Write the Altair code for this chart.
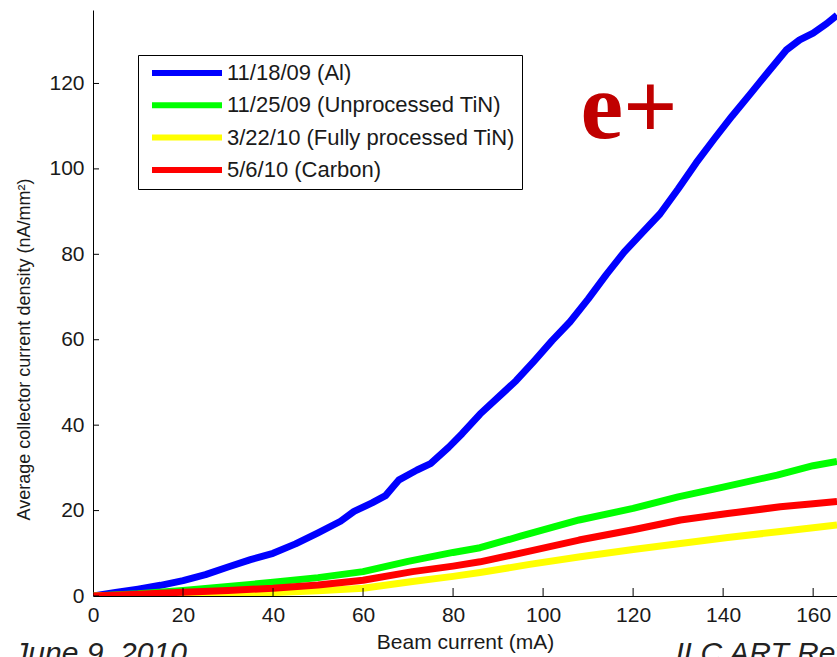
import altair as alt
import pandas as pd

# ---------------- data ----------------
series_names = [
    "11/18/09 (Al)",
    "11/25/09 (Unprocessed TiN)",
    "3/22/10 (Fully processed TiN)",
    "5/6/10 (Carbon)",
]
series_colors = ["#0000FF", "#00FF00", "#FFFF00", "#FF0000"]

al_x = [0, 5, 10, 15, 20, 25, 30, 35, 40, 45, 50, 55, 58, 62, 65, 68, 72, 75, 79, 82,
        86, 90, 94, 98, 102, 106, 110, 114, 118, 122, 126, 130, 134, 138, 142, 146,
        150, 154, 157, 160, 163, 165.3]
al_y = [0, 0.8, 1.6, 2.5, 3.6, 5.0, 6.8, 8.5, 10.0, 12.2, 14.8, 17.5, 19.8, 21.8, 23.5,
        27.2, 29.5, 31.0, 34.8, 38.0, 42.6, 46.5, 50.4, 55.0, 59.8, 64.2, 69.5, 75.2,
        80.5, 85.0, 89.5, 95.3, 101.4, 107.0, 112.4, 117.5, 122.7, 127.8, 130.2, 131.8,
        134.0, 136.0]

untin_x = [0, 10, 20, 30, 40, 50, 60, 70, 80, 86, 95, 108, 120, 130, 140, 152, 160, 165.3]
untin_y = [0, 0.5, 1.3, 2.2, 3.2, 4.3, 5.7, 8.1, 10.2, 11.3, 14.0, 17.8, 20.5, 23.2, 25.5,
           28.3, 30.5, 31.5]

fptin_x = [0, 10, 20, 30, 40, 50, 60, 71, 80, 86, 97, 108.3, 120, 130.5, 141, 152.7, 160, 165.3]
fptin_y = [0, 0.1, 0.3, 0.5, 0.8, 1.2, 1.8, 3.4, 4.6, 5.5, 7.4, 9.2, 10.9, 12.3, 13.7, 15.1,
           16.0, 16.6]

carbon_x = [0, 10, 20, 30, 40, 50, 60, 71, 80, 86, 97, 108, 120, 130.5, 141, 152.7, 160, 165.3]
carbon_y = [0, 0.4, 0.9, 1.3, 1.8, 2.6, 3.7, 5.7, 7.0, 8.0, 10.5, 13.1, 15.5, 17.8, 19.3,
            20.9, 21.6, 22.1]

x_ticks = [0, 20, 40, 60, 80, 100, 120, 140, 160]
y_ticks = [0, 20, 40, 60, 80, 100, 120]
x_domain = [0, 165.3]
y_domain = [0, 137.2]

x_title = "Beam current (mA)"
y_title = "Average collector current density (nA/mm\u00b2)"

# annotations (data coordinates)
big_label = ["e+"]
big_label_x = [108.3]
big_label_y = [107.3]
footer_texts = ["June 9, 2010", "ILC ART Review"]
footer_x = [-17.7, 129.4]
footer_y = [-15.8, -15.8]

# ---------------- build tables ----------------
rows = []
for name, xs, ys in zip(series_names,
                        [al_x, untin_x, fptin_x, carbon_x],
                        [al_y, untin_y, fptin_y, carbon_y]):
    for a, b in zip(xs, ys):
        rows.append({"series": name, "current": a, "density": b})
df = pd.DataFrame(rows)

xtick_df = pd.DataFrame({"v": x_ticks, "base": [y_domain[0]] * len(x_ticks)})
ytick_df = pd.DataFrame({"v": y_ticks, "base": [x_domain[0]] * len(y_ticks)})
ann_big = pd.DataFrame({"t": big_label, "x": big_label_x, "y": big_label_y})
ann_foot = pd.DataFrame({"t": footer_texts, "x": footer_x, "y": footer_y})

FONT = "Liberation Sans"
TXT = "#1a1a1a"

xscale = alt.Scale(domain=x_domain, nice=False, zero=False)
yscale = alt.Scale(domain=y_domain, nice=False, zero=False)

main_x_axis = alt.Axis(orient="bottom", values=x_ticks, ticks=False, domain=True,
                       domainColor="#000", domainWidth=1, grid=False, labelFlush=False,
                       labelFont=FONT, labelFontSize=21, labelColor=TXT, labelPadding=8,
                       title=x_title, titleFont=FONT, titleFontSize=21,
                       titleFontWeight="normal", titleColor=TXT, titlePadding=6)
main_y_axis = alt.Axis(orient="left", values=y_ticks, ticks=False, domain=True,
                       domainColor="#000", domainWidth=1, grid=False, labelFlush=False,
                       labelFont=FONT, labelFontSize=21, labelColor=TXT, labelPadding=9,
                       title=y_title, titleFont=FONT, titleFontSize=18,
                       titleFontWeight="normal", titleColor=TXT,
                       titleX=-64, titleY=339, titleAlign="center",
                       titleBaseline="alphabetic", titleAngle=270)

legend = alt.Legend(
    title=None, orient="none", legendX=45, legendY=45,
    fillColor="white", strokeColor="#000", padding=7,
    symbolType="M-4.375,0L4.375,0", symbolSize=256, symbolStrokeWidth=6,
    symbolFillColor="transparent", symbolOffset=31, labelOffset=29,
    labelFont=FONT, labelFontSize=22, labelColor=TXT, rowPadding=8.3,
    labelLimit=400,
)

lines = alt.Chart(df).mark_line(strokeWidth=7, strokeJoin="round", clip=True).encode(
    x=alt.X("current:Q", scale=xscale, axis=main_x_axis),
    y=alt.Y("density:Q", scale=yscale, axis=main_y_axis),
    color=alt.Color("series:N",
                    scale=alt.Scale(domain=series_names, range=series_colors),
                    sort=series_names, legend=legend),
)

# inward-pointing ticks (MATLAB style): ticks centred on the axis, clipped to the plot
xticks_layer = alt.Chart(xtick_df).mark_tick(
    orient="vertical", size=16, thickness=1, color="#000", clip=True, opacity=1
).encode(
    x=alt.X("v:Q", scale=xscale, axis=None),
    y=alt.Y("base:Q", scale=yscale, axis=None),
)
yticks_layer = alt.Chart(ytick_df).mark_tick(
    orient="horizontal", size=12, thickness=1, color="#000", clip=True, opacity=1
).encode(
    x=alt.X("base:Q", scale=xscale, axis=None),
    y=alt.Y("v:Q", scale=yscale, axis=None),
)

big_text = alt.Chart(ann_big).mark_text(
    font="Liberation Serif", fontWeight="bold", fontSize=96, color="#C00000",
    align="left", baseline="alphabetic", clip=False,
).encode(
    x=alt.X("x:Q", scale=xscale, axis=None),
    y=alt.Y("y:Q", scale=yscale, axis=None),
    text="t:N",
)

foot_text = alt.Chart(ann_foot).mark_text(
    font=FONT, fontStyle="italic", fontSize=30, color="#222222",
    align="left", baseline="alphabetic", clip=False,
).encode(
    x=alt.X("x:Q", scale=xscale, axis=None),
    y=alt.Y("y:Q", scale=yscale, axis=None),
    text="t:N",
)

chart = alt.layer(lines, xticks_layer, yticks_layer, big_text, foot_text).resolve_axis(
    x="independent", y="independent"
).properties(
    width=744, height=586,
    autosize=alt.AutoSizeParams(type="none"),
    padding={"left": 93, "top": 10, "right": 0, "bottom": 61},
    background="white",
).configure_view(stroke=None)

chart.save("out.html", embed_options={"renderer": "svg", "actions": False})
